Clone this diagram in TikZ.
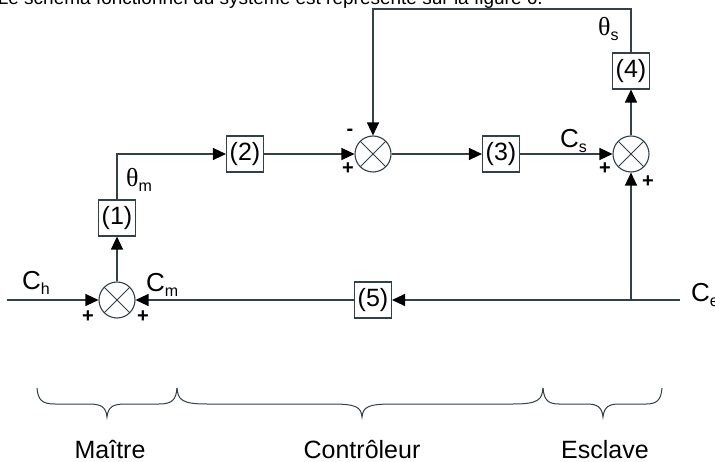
\documentclass[tikz,border=0pt]{standalone}
\usepackage{fontspec}
\setmainfont{Liberation Sans}
\newfontfamily\grkfont{Liberation Serif}
\usetikzlibrary{arrows.meta}
\definecolor{ln}{RGB}{50,64,72}
\newcommand\sbs[1]{{\fontsize{16}{16}\selectfont\raisebox{-5pt}{#1}}}
\newcommand\mybrace[4]{% xa, xm, xb, curve width
  \draw[ln,line width=1pt] (#1,388) .. controls (#1+1,400) and (#1+5,404) .. (#1+#4,404)
    -- (#2-#4,404) .. controls (#2-6,404) and (#2-1,407) .. (#2,417)
    .. controls (#2+1,407) and (#2+6,404) .. (#2+#4,404)
    -- (#3-#4,404) .. controls (#3-5,404) and (#3-1,400) .. (#3,388);}
\begin{document}
\begin{tikzpicture}[x=1pt,y=-1pt,
  wire/.style={draw=ln, line width=1.2pt},
  arr/.style={wire,-{Triangle[length=13pt,width=12pt,color=black]}},
  blk/.style={draw=ln, line width=1.1pt, minimum width=37pt, minimum height=36pt, inner sep=0pt, font=\fontsize{25}{25}\selectfont},
  sumc/.style={circle, draw=ln, line width=1.1pt, minimum size=36pt, inner sep=0pt,
    path picture={\draw[ln,line width=1pt] (path picture bounding box.north west) -- (path picture bounding box.south east)
      (path picture bounding box.north east) -- (path picture bounding box.south west);}},
  lab/.style={font=\fontsize{26}{26}\selectfont, inner sep=0pt},
  sgn/.style={font=\bfseries\fontsize{20}{20}\selectfont, inner sep=0pt}]
\clip (0,0) rectangle (715,462);
\fill[white] (0,0) rectangle (715,462);
% top cut text
\node[anchor=base east, font=\fontsize{19}{19}\selectfont, inner sep=0pt] (top) at (543,5) {Le schéma fonctionnel du système est représenté sur la figure 6.};
% blocks
\node[sumc] (s1) at (117,300) {};
\node[blk] (b1) at (117,218) {(1)};
\node[blk] (b2) at (245,154) {(2)};
\node[sumc] (s2) at (373,154) {};
\node[blk] (b3) at (501,154) {(3)};
\node[sumc] (s3) at (631,154) {};
\node[blk] (b4) at (631,71) {(4)};
\node[blk] (b5) at (373,300) {(5)};
\coordinate (in) at (7,300);
\coordinate (ce) at (680,300);
\coordinate (br) at (631,300);
\coordinate (m) at (117,154);
\coordinate (tl) at (373,9);
\coordinate (tr) at (631,9);
% connectors
\draw[arr] (in) -- (s1);
\draw[arr] (b5) -- (s1);
\draw[arr] (s1) -- (b1);
\draw[arr] (b1) -- (m) -- (b2);
\draw[arr] (b2) -- (s2);
\draw[arr] (s2) -- (b3);
\draw[arr] (b3) -- (s3);
\draw[arr] (s3) -- (b4);
\draw[arr] (b4) -- (tr) -- (tl) -- (s2);
\draw[arr] (ce) -- (b5);
\draw[arr] (br) -- (s3);
% labels
\node[lab, anchor=base west] (ch) at (22,290) {C\sbs{h}};
\node[lab, anchor=base west] (cm) at (146,292) {C\sbs{m}};
\node[lab, anchor=base west] (cs) at (560,148) {C\sbs{s}};
\node[lab, anchor=base west] (cee) at (691,302) {C\sbs{e}};
\node[lab, anchor=base west] (tm) at (126,187) {{\grkfont θ}\sbs{m}};
\node[lab, anchor=base west] (ts) at (598,36) {{\grkfont θ}\sbs{s}};
% signs
\node[sgn] (p1) at (88,317) {+};
\node[sgn] (p2) at (143,317) {+};
\node[sgn] (m2) at (350,132) {-};
\node[sgn] (p3) at (348,169) {+};
\node[sgn] (p4) at (605,169) {+};
\node[sgn] (p5) at (648,182) {+};
% braces
\mybrace{37}{107}{177}{18}
\mybrace{177}{362}{543}{30}
\mybrace{543}{603}{662}{16}
\node[font=\fontsize{25}{25}\selectfont, anchor=base] (l1) at (110,458) {Maître};
\node[font=\fontsize{25}{25}\selectfont, anchor=base] (l2) at (362,458) {Contrôleur};
\node[font=\fontsize{25}{25}\selectfont, anchor=base] (l3) at (605,458) {Esclave};
\end{tikzpicture}
\end{document}
